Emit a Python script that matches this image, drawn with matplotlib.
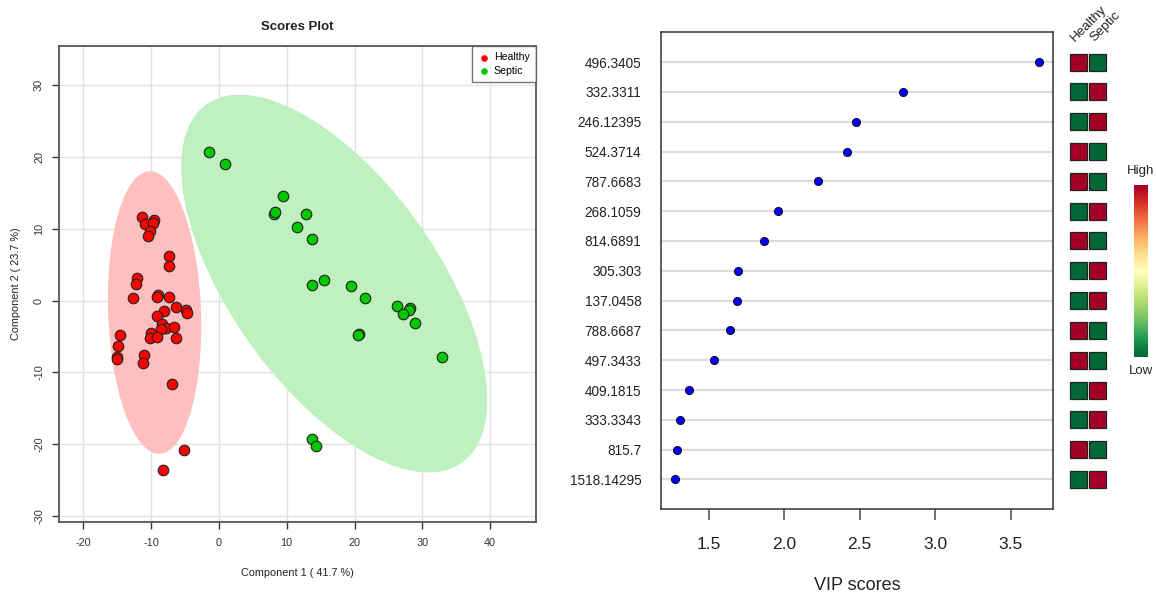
import numpy as np
import matplotlib
matplotlib.use('Agg')
import matplotlib.pyplot as plt
from matplotlib.patches import Ellipse, Rectangle

plt.rcParams['font.family'] = ['Liberation Sans', 'DejaVu Sans']
plt.rcParams['axes.unicode_minus'] = False

# --- scores plot data (component 1, component 2) ---
healthy_x = [-11.3, -10.9, -9.5, -9.75, -10.15, -10.5, -7.3, -7.4, -12.1, -12.2,
             -12.7, -9.0, -9.1, -7.4, -6.4, -4.8, -4.7, -8.1, -9.1, -8.4,
             -7.8, -8.6, -6.6, -10.0, -10.1, -9.2, -6.3, -14.6, -14.9, -15.1,
             -15.1, -11.0, -11.2, -6.9, -5.1, -8.3]
healthy_y = [11.7, 10.7, 11.2, 10.8, 9.7, 9.0, 6.2, 4.8, 3.2, 2.3,
             0.4, 0.7, 0.5, 0.5, -0.9, -1.3, -1.8, -1.4, -2.2, -3.3,
             -3.9, -4.0, -3.7, -4.5, -5.2, -5.1, -5.2, -4.8, -6.4, -7.9,
             -8.2, -7.6, -8.7, -11.6, -20.9, -23.6]
septic_x = [-1.5, 0.9, 9.4, 8.1, 8.3, 12.9, 11.5, 13.8, 13.7, 15.5, 19.5,
            21.5, 26.3, 28.2, 28.1, 27.1, 28.9, 20.6, 20.5, 32.9, 13.7, 14.3]
septic_y = [20.7, 19.0, 14.6, 12.1, 12.3, 12.1, 10.3, 8.6, 2.2, 2.8, 2.0,
            0.4, -0.7, -1.1, -1.3, -1.9, -3.2, -4.7, -4.8, -7.9, -19.3, -20.3]
groups = ['Healthy', 'Septic']

# --- VIP data ---
features = ['496.3405', '332.3311', '246.12395', '524.3714', '787.6683',
            '268.1059', '814.6891', '305.303', '137.0458', '788.6687',
            '497.3433', '409.1815', '333.3343', '815.7', '1518.14295']
vip = [3.687, 2.788, 2.476, 2.416, 2.225, 1.960, 1.867, 1.696, 1.689,
       1.643, 1.533, 1.369, 1.311, 1.291, 1.279]
# 1 = high, 0 = low  (Healthy, Septic)
healthy_level = [1, 0, 0, 1, 1, 0, 1, 0, 0, 1, 1, 0, 0, 1, 0]
septic_level = [0, 1, 1, 0, 0, 1, 0, 1, 1, 0, 0, 1, 1, 0, 1]

W, H = 1156, 594
fig = plt.figure(figsize=(W / 100, H / 100), dpi=100)


def frac(x0, y0, x1, y1):
    return [x0 / W, 1 - y1 / H, (x1 - x0) / W, (y1 - y0) / H]


# ================= left: scores plot =================
ax = fig.add_axes(frac(59.3, 46, 536, 522.3))
chi = -2 * np.log(0.05)  # 95% level, 2 dof
for xs, ys, col, fill in [(healthy_x, healthy_y, '#FF0000', '#FFBFBF'),
                          (septic_x, septic_y, '#00C800', '#BFF0BF')]:
    pts = np.column_stack([xs, ys])
    cov = np.cov(pts.T)
    vals, vecs = np.linalg.eigh(cov)
    ang = np.degrees(np.arctan2(vecs[1, 1], vecs[0, 1]))
    ax.add_patch(Ellipse(pts.mean(axis=0), 2 * np.sqrt(chi * vals[1]),
                         2 * np.sqrt(chi * vals[0]), angle=ang,
                         facecolor=fill, edgecolor='none', zorder=1))
ax.scatter(healthy_x, healthy_y, s=58, c='#FF0000', edgecolors='#222222',
           linewidths=0.8, zorder=3)
ax.scatter(septic_x, septic_y, s=58, c='#00C800', edgecolors='#222222',
           linewidths=0.8, zorder=3)
ax.set_xlim(-23.54, 46.77)
ax.set_ylim(-30.92, 35.48)
ax.set_xticks(np.arange(-20, 41, 10))
ax.set_yticks(np.arange(-30, 31, 10))
ax.grid(True, color='#e2e2e2', lw=1.0, zorder=0)
ax.set_axisbelow(True)
ax.tick_params(labelsize=7.8, colors='#333333', length=5, width=1,
               direction='out', pad=6)
for lab in ax.get_yticklabels():
    lab.set_rotation(90)
    lab.set_va('center')
for sp in ax.spines.values():
    sp.set_color('#555555')
    sp.set_linewidth(1.3)
ax.set_xlabel('Component 1 ( 41.7 %)', fontsize=7.8, color='#222222')
ax.xaxis.set_label_coords(0.5, -0.106)
ax.xaxis.label.set_va('center')
ax.set_ylabel('Component 2 ( 23.7 %)', fontsize=7.8, color='#222222')
ax.yaxis.set_label_coords(-0.091, 0.5)
ax.yaxis.label.set_va('center')
ax.text(0.5, 1.0405, 'Scores Plot', transform=ax.transAxes, ha='center',
        va='center', fontsize=9.5, fontweight='bold', color='#222222')
h1 = ax.scatter([], [], s=14, c='#FF0000')
h2 = ax.scatter([], [], s=14, c='#00C800')
leg = ax.legend([h1, h2], groups, loc='upper right', fontsize=7.6,
                frameon=True, fancybox=False, borderaxespad=0,
                handletextpad=0.3, borderpad=0.6, labelspacing=0.35,
                handlelength=1.2)
leg.get_frame().set_edgecolor('#555555')
leg.get_frame().set_linewidth(1.0)

# ================= right: VIP scores =================
ax2 = fig.add_axes(frac(660.7, 32.3, 1053, 509.3))
n = len(features)
ypos = np.arange(n, 0, -1)
for yy in ypos:
    ax2.axhline(yy, color='#dcdcdc', lw=1.5, zorder=0)
ax2.scatter(vip, ypos, s=34, c='#0000FF', edgecolors='#111111',
            linewidths=0.7, zorder=3)
ax2.set_xlim(1.182, 3.780)
ax2.set_ylim(0, n + 1)
ax2.set_yticks(ypos)
ax2.set_yticklabels(features)
ax2.set_xticks([1.5, 2.0, 2.5, 3.0, 3.5])
ax2.tick_params(axis='y', length=0, pad=14, labelsize=9.8, colors='#222222')
ax2.tick_params(axis='x', length=8, width=1.2, color='#555555', pad=12,
                labelsize=12.5, labelcolor='#222222')
for sp in ax2.spines.values():
    sp.set_color('#333333')
    sp.set_linewidth(1.1)
ax2.set_xlabel('VIP scores', fontsize=13, color='#222222')
ax2.xaxis.set_label_coords(0.5, -0.159)
ax2.xaxis.label.set_va('center')

# heatmap boxes
cmap = plt.get_cmap('RdYlGn_r')
axh = fig.add_axes(frac(1068.5, 32.3, 1107.5, 509.3))
axh.set_xlim(0, 2)
axh.set_ylim(0, n + 1)
axh.axis('off')
for j, levels in enumerate([healthy_level, septic_level]):
    for yy, lv in zip(ypos, levels):
        axh.add_patch(Rectangle((j + 0.065, yy - 0.285), 0.87, 0.57,
                                facecolor=cmap(0.0 if lv == 0 else 1.0),
                                edgecolor='#222222', lw=0.9))
for j, g in enumerate(groups):
    axh.text(j + 0.45, n + 0.62, g, rotation=45, rotation_mode='anchor',
             ha='left', va='bottom', fontsize=9.6, color='#222222')

# colour key
axc = fig.add_axes(frac(1134, 185, 1147.3, 356.7))
axc.imshow(np.linspace(1, 0, 200)[:, None], aspect='auto', cmap=cmap,
           extent=[0, 1, 0, 1])
axc.axis('off')
fig.text(1141 / W, 1 - 170.7 / H, 'High', ha='center', va='center',
         fontsize=9.5, color='#222222')
fig.text(1141 / W, 1 - 370.7 / H, 'Low', ha='center', va='center',
         fontsize=9.5, color='#222222')

fig.savefig('out.png', dpi=100)
